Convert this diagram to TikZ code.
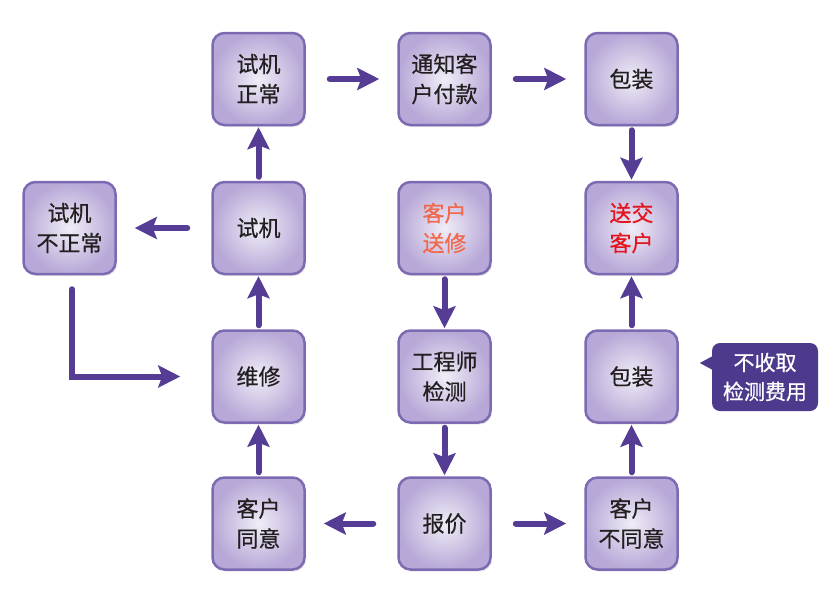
\documentclass[tikz,border=0pt]{standalone}
\usepackage{fontspec}
\setmainfont{Noto Sans CJK SC}
\newfontfamily\medfont[FakeBold=0.6]{Noto Sans CJK SC}
\usetikzlibrary{arrows.meta,shadows,calc}
\definecolor{boxborder}{HTML}{7E6AB2}
\definecolor{boxouter}{HTML}{B7A8D7}
\definecolor{boxinner}{HTML}{F1EDF7}
\definecolor{arrowc}{HTML}{553C94}
\definecolor{calloutc}{HTML}{4E3A8C}
\definecolor{txt}{HTML}{231F20}
\definecolor{txtorange}{HTML}{F0694C}
\definecolor{txtred}{HTML}{E3141C}
\begin{document}
\begin{tikzpicture}[x=1pt,y=-1pt,
  flowbox/.style={draw=boxborder, line width=2.5pt, rounded corners=12pt,
    minimum width=92pt, minimum height=92pt, inner sep=0pt,
    inner color=boxinner, outer color=boxouter,
    drop shadow={opacity=0.18,shadow xshift=1.5pt,shadow yshift=-2pt},
    align=center, font=\medfont\fontsize{22}{30}\selectfont, text=txt},
  flowarrow/.style={draw=arrowc, line width=6pt, line cap=round,
    -{Stealth[length=22pt,width=22pt,inset=4pt]}},
  harrow/.style={flowarrow, shorten <=24pt, shorten >=18pt},
  varrow/.style={flowarrow, shorten <=4pt, shorten >=1pt},
  callout/.style={fill=calloutc, rounded corners=8pt, minimum width=106pt,
    minimum height=68pt, inner sep=0pt, align=center,
    font=\medfont\fontsize{21}{29}\selectfont, text=white}
]
\fill[white] (0,0) rectangle (840,611);
\useasboundingbox (0,0) rectangle (840,611);

\node[flowbox] (n1) at (258.5,79) {试机\\正常};
\node[flowbox] (n2) at (444.5,79) {通知客\\户付款};
\node[flowbox] (n3) at (631.5,79) {包装};
\node[flowbox] (n4) at (69.5,228) {试机\\不正常};
\node[flowbox] (n5) at (258.5,228) {试机};
\node[flowbox, text=txtorange] (n6) at (444.5,228) {客户\\送修};
\node[flowbox, text=txtred] (n7) at (631.5,228) {送交\\客户};
\node[flowbox] (n8) at (258.5,376.5) {维修};
\node[flowbox] (n9) at (444.5,376.5) {工程师\\检测};
\node[flowbox] (n10) at (631.5,376.5) {包装};
\node[flowbox] (n11) at (258.5,523.5) {客户\\同意};
\node[flowbox] (n12) at (444.5,523.5) {报价};
\node[flowbox] (n13) at (631.5,523.5) {客户\\不同意};

\node[callout] (co) at (765,377) {不收取\\检测费用};
\fill[calloutc] ($(co.west)+(1,-21)$) -- ($(co.west)+(-12,-14)$) -- ($(co.west)+(1,-7)$) -- cycle;

% connectors
\draw[harrow] (n1.east) -- (n2.west);
\draw[harrow] (n2.east) -- (n3.west);
\draw[varrow] (n3.south) -- (n7.north);
\draw[varrow] (n5.north) -- (n1.south);
\draw[varrow] (n8.north) -- (n5.south);
\draw[varrow] (n11.north) -- (n8.south);
\draw[varrow] (n6.south) -- (n9.north);
\draw[varrow] (n9.south) -- (n12.north);
\draw[varrow] (n10.north) -- (n7.south);
\draw[varrow] (n13.north) -- (n10.south);
\draw[harrow] (n5.west) -- (n4.east);
\draw[harrow] (n12.west) -- (n11.east);
\draw[harrow] (n12.east) -- (n13.west);
\draw[flowarrow, shorten <=14pt, shorten >=31pt] ([xshift=2.5pt]n4.south) |- (n8.west);
\end{tikzpicture}
\end{document}
